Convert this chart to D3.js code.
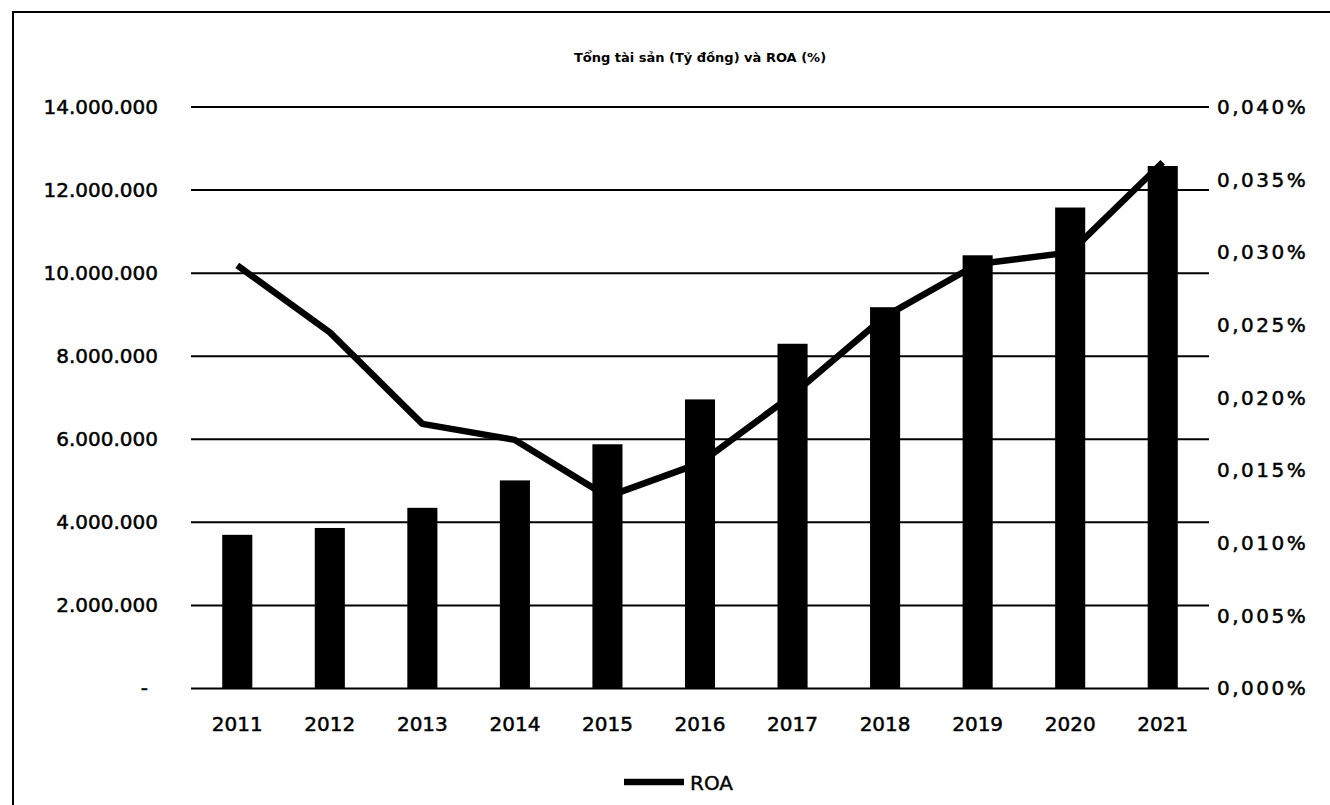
<!DOCTYPE html>
<html lang="vi">
<head>
    <meta charset="UTF-8">
    <title>Tổng tài sản và ROA</title>
    <script src="https://d3js.org/d3.v7.min.js"></script>
    <style>
        body {
            margin: 0;
            background: white;
            font-family: "DejaVu Sans", sans-serif;
        }
        svg {
            display: block;
        }
    </style>
</head>
<body>
    <svg width="1330" height="805"></svg>

    <script>
        // data
        const years = ["2011", "2012", "2013", "2014", "2015", "2016", "2017", "2018", "2019", "2020", "2021"];
        const totalAssets = [3700000, 3865000, 4350000, 5010000, 5880000, 6960000, 8300000, 9180000, 10430000, 11580000, 12580000];
        const roa = [0.0291, 0.0245, 0.0182, 0.0171, 0.0132, 0.0155, 0.0202, 0.0256, 0.0292, 0.0300, 0.0362];
        const leftTicks = [0, 2000000, 4000000, 6000000, 8000000, 10000000, 12000000, 14000000];
        const rightTicks = [0, 0.005, 0.010, 0.015, 0.020, 0.025, 0.030, 0.035, 0.040];
        const chartTitle = "Tổng tài sản (Tỷ đồng) và ROA (%)";
        const legendLabel = "ROA";

        const svg = d3.select("svg");
        const margin = {left: 191, right: 1209, top: 107, bottom: 688.5};

        const x = d3.scaleBand()
            .domain(years)
            .range([margin.left, margin.right])
            .paddingInner(0.675)
            .paddingOuter(0.3375);

        const yLeft = d3.scaleLinear().domain([0, 14000000]).range([margin.bottom, margin.top]);
        const yRight = d3.scaleLinear().domain([0, 0.04]).range([margin.bottom, margin.top]);

        const vn = d3.formatLocale({decimal: ",", thousands: ".", grouping: [3], currency: ["", ""]});
        const fmtLeft = d => d === 0 ? "-" : vn.format(",.0f")(d);
        const fmtRight = d => vn.format(".3f")(d) + "%";

        // frame
        svg.append("path")
            .attr("d", "M13,805 V12 H1330")
            .attr("fill", "none")
            .attr("stroke", "black")
            .attr("stroke-width", 2);

        // title
        svg.append("text")
            .attr("x", 700)
            .attr("y", 62)
            .attr("text-anchor", "middle")
            .attr("font-size", 13)
            .attr("font-weight", "bold")
            .text(chartTitle);

        // gridlines
        svg.append("g")
            .selectAll("line")
            .data(leftTicks)
            .join("line")
            .attr("x1", margin.left)
            .attr("x2", margin.right)
            .attr("y1", d => yLeft(d))
            .attr("y2", d => yLeft(d))
            .attr("stroke", "black")
            .attr("stroke-width", 2);

        // left axis
        const leftAxis = svg.append("g")
            .attr("transform", `translate(${margin.left - 33},0)`)
            .call(d3.axisLeft(yLeft).tickValues(leftTicks).tickFormat(fmtLeft).tickSize(0).tickPadding(0));
        leftAxis.select(".domain").remove();
        leftAxis.selectAll("text")
            .attr("font-family", "DejaVu Sans")
            .attr("font-size", 20)
            .attr("fill", "black")
            .attr("stroke", "black")
            .attr("stroke-width", 0.5)
            .attr("dx", d => d === 0 ? -10 : 0);

        // right axis
        const rightAxis = svg.append("g")
            .attr("transform", `translate(${margin.right + 8},0)`)
            .call(d3.axisRight(yRight).tickValues(rightTicks).tickFormat(fmtRight).tickSize(0).tickPadding(0));
        rightAxis.select(".domain").remove();
        rightAxis.selectAll("text")
            .attr("font-family", "DejaVu Sans")
            .attr("font-size", 20)
            .attr("letter-spacing", 2.5)
            .attr("fill", "black")
            .attr("stroke", "black")
            .attr("stroke-width", 0.5);

        // bars
        svg.append("g")
            .selectAll("rect")
            .data(years)
            .join("rect")
            .attr("x", d => x(d))
            .attr("width", x.bandwidth())
            .attr("y", (d, i) => yLeft(totalAssets[i]))
            .attr("height", (d, i) => yLeft(0) - yLeft(totalAssets[i]))
            .attr("fill", "black");

        // x axis labels
        const xAxis = svg.append("g")
            .attr("transform", `translate(0,${margin.bottom})`)
            .call(d3.axisBottom(x).tickSize(0).tickPadding(28));
        xAxis.select(".domain").remove();
        xAxis.selectAll("text")
            .attr("font-family", "DejaVu Sans")
            .attr("font-size", 20)
            .attr("fill", "black")
            .attr("stroke", "black")
            .attr("stroke-width", 0.5);

        // ROA line
        const line = d3.line()
            .x((d, i) => x(years[i]) + x.bandwidth() / 2)
            .y(d => yRight(d));

        svg.append("path")
            .datum(roa)
            .attr("d", line)
            .attr("fill", "none")
            .attr("stroke", "black")
            .attr("stroke-width", 6.5)
            .attr("stroke-linejoin", "round");

        // legend
        const legend = svg.append("g").attr("transform", "translate(624,782)");
        legend.append("line")
            .attr("x1", 0)
            .attr("x2", 60)
            .attr("stroke", "black")
            .attr("stroke-width", 6.5);
        legend.append("text")
            .attr("x", 66)
            .attr("y", 8)
            .attr("font-size", 20)
            .attr("fill", "black")
            .attr("stroke", "black")
            .attr("stroke-width", 0.4)
            .text(legendLabel);
    </script>
</body>
</html>
